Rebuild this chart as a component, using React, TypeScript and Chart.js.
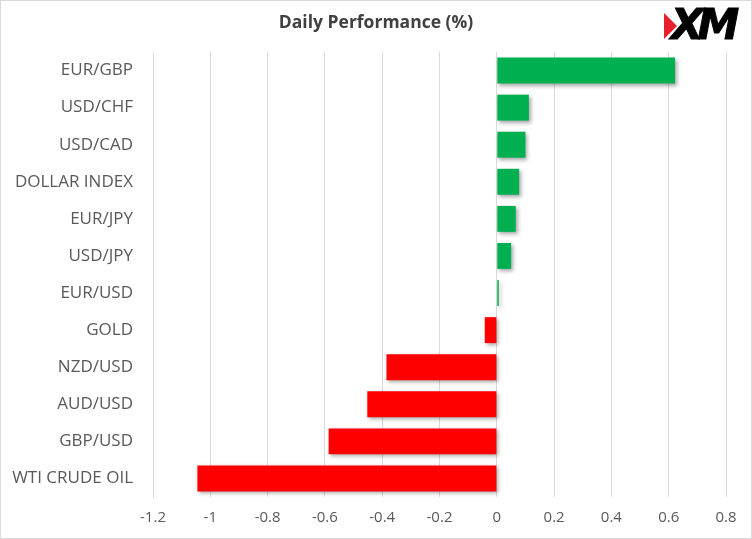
import React, { useEffect, useRef } from "react";
import { Chart, registerables } from "chart.js";

Chart.register(...registerables);

const categories = [
  "EUR/GBP",
  "USD/CHF",
  "USD/CAD",
  "DOLLAR INDEX",
  "EUR/JPY",
  "USD/JPY",
  "EUR/USD",
  "GOLD",
  "NZD/USD",
  "AUD/USD",
  "GBP/USD",
  "WTI CRUDE OIL",
];
const values = [0.622, 0.112, 0.1, 0.078, 0.066, 0.05, 0.007, -0.042, -0.385, -0.452, -0.587, -1.045];
const xTicks = [-1.2, -1, -0.8, -0.6, -0.4, -0.2, 0, 0.2, 0.4, 0.6, 0.8];
const title = "Daily Performance (%)";

const GREEN = "#00B050";
const RED = "#FF0000";
const FONT = "'Open Sans', 'Noto Sans', sans-serif";

const shadowPlugin = {
  id: "barShadow",
  beforeDatasetsDraw(chart: any) {
    const ctx = chart.ctx;
    ctx.save();
    ctx.shadowColor = "rgba(0,0,0,0.35)";
    ctx.shadowBlur = 4;
    ctx.shadowOffsetX = 2;
    ctx.shadowOffsetY = 2;
  },
  afterDatasetsDraw(chart: any) {
    chart.ctx.restore();
  },
};

export default function App() {
  const ref = useRef<HTMLCanvasElement | null>(null);

  useEffect(() => {
    document.body.style.margin = "0";
    const canvas = ref.current!;
    const chart = new Chart(canvas, {
      type: "bar",
      data: {
        labels: categories,
        datasets: [
          {
            data: values,
            backgroundColor: values.map((v) => (v >= 0 ? GREEN : RED)),
            borderWidth: 0,
            barPercentage: 0.7,
            categoryPercentage: 1,
          },
        ],
      },
      options: {
        indexAxis: "y",
        responsive: false,
        animation: false,
        layout: { padding: 0 },
        plugins: {
          legend: { display: false },
          tooltip: { enabled: false },
          title: {
            display: true,
            text: title,
            color: "#404040",
            font: { family: FONT, size: 17.5, weight: "bold" },
            padding: { top: 13, bottom: 18 },
          },
        },
        scales: {
          x: {
            type: "linear",
            min: -1.2,
            max: 0.8,
            afterBuildTicks(scale: any) {
              scale.ticks = xTicks.map((v) => ({ value: v }));
            },
            afterFit(scale: any) {
              scale.height = 42;
            },
            grid: { color: "#D9D9D9", drawTicks: false, lineWidth: 1 },
            border: { display: false },
            ticks: {
              color: "#595959",
              font: { family: FONT, size: 15 },
              padding: 12,
              maxRotation: 0,
              callback: (v: any) => String(Math.round(Number(v) * 10) / 10),
            },
          },
          y: {
            type: "category",
            afterFit(scale: any) {
              scale.width = 153;
            },
            grid: { display: false, drawTicks: false },
            border: { display: true, color: "#D9D9D9" },
            ticks: {
              color: "#595959",
              font: { family: FONT, size: 17 },
              padding: 20,
            },
          },
          yRight: {
            type: "category",
            position: "right",
            afterFit(scale: any) {
              scale.width = 26;
            },
            grid: { display: false, drawTicks: false },
            border: { display: false },
            ticks: { display: false },
          },
        },
      },
      plugins: [shadowPlugin],
    });
    return () => chart.destroy();
  }, []);

  return (
    <div style={{ position: "relative", width: 752, height: 539, background: "#fff" }}>
      <canvas ref={ref} width={752} height={539} style={{ position: "absolute", left: 0, top: 0 }} />
      <div
        style={{
          position: "absolute",
          left: 664,
          top: 3,
          width: 88,
          height: 44,
          display: "flex",
          alignItems: "center",
        }}
      >
        <div
          style={{
            width: 0,
            height: 0,
            borderTop: "13px solid transparent",
            borderBottom: "13px solid transparent",
            borderLeft: "13px solid #E8202A",
            marginRight: -6,
            marginTop: 2,
          }}
        />
        <span
          style={{
            fontFamily: "'DejaVu Sans', sans-serif",
            fontWeight: 900,
            fontStyle: "italic",
            fontSize: 42,
            letterSpacing: -6,
            color: "#000",
            lineHeight: "44px",
            WebkitTextStroke: "1px #000",
          }}
        >
          XM
        </span>
      </div>
      <div
        style={{
          position: "absolute",
          left: 0,
          top: 0,
          width: 752,
          height: 539,
          boxSizing: "border-box",
          border: "1px solid #D9D9D9",
          pointerEvents: "none",
        }}
      />
    </div>
  );
}
